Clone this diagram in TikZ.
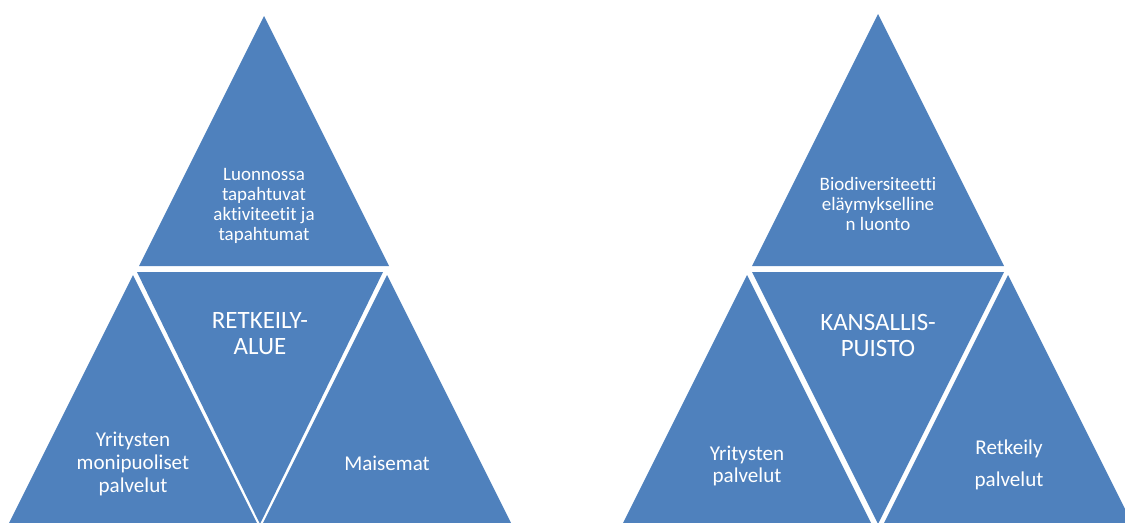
\documentclass[tikz,border=0pt]{standalone}
\usepackage{fontspec}
\setmainfont{Carlito}[Ligatures=NoCommon]
\usepackage{tikz}
\definecolor{sininen}{HTML}{4F81BD}

\begin{document}
\begin{tikzpicture}[x=0.02cm,y=-0.02cm,
	kolmio/.style={fill=sininen},
	pieni/.style={text=white,align=center,font=\fontsize{10.8}{11.4}\selectfont},
	keski/.style={text=white,align=center,font=\fontsize{12}{13}\selectfont},
	iso/.style={text=white,align=center,font=\fontsize{14.2}{14.8}\selectfont}]
\useasboundingbox (0,0) rectangle (1125,522);
\clip (0,0) rectangle (1125,522);
% retkeilyalue
\fill[kolmio] (264,16) -- (389,266) -- (139,266) -- cycle;
\fill[kolmio] (137,272) -- (383,272) -- (260,524) -- cycle;
\fill[kolmio] (133,275) -- (258,525) -- (8,525) -- cycle;
\fill[kolmio] (387,275) -- (512,525) -- (262,525) -- cycle;
\node[pieni] (luonto) at (264,206) {Luonnossa\\tapahtuvat\\aktiviteetit ja\\tapahtumat};
\node[iso] (retkeilyalue) at (260,334) {RETKEILY-\\ALUE};
\node[keski] (yritykset) at (133,464) {Yritysten\\monipuoliset\\palvelut};
\node[keski] (maisemat) at (387,463) {Maisemat};
% kansallispuisto
\fill[kolmio] (878,14) -- (1004,266) -- (752,266) -- cycle;
\fill[kolmio] (752,272) -- (1004,272) -- (878,524) -- cycle;
\fill[kolmio] (747,275) -- (872,525) -- (622,525) -- cycle;
\fill[kolmio] (1008,275) -- (1133,525) -- (883,525) -- cycle;
\node[pieni] (biodiversiteetti) at (878,204) {Biodiversiteetti\\eläymykselline\\n luonto};
\node[iso] (kansallispuisto) at (878,335) {KANSALLIS-\\PUISTO};
\node[keski] (palvelut) at (747,466) {Yritysten\\palvelut};
\node[keski] (retkeily) at (1009,465) {Retkeily\\[5pt]palvelut};
\end{tikzpicture}
\end{document}
